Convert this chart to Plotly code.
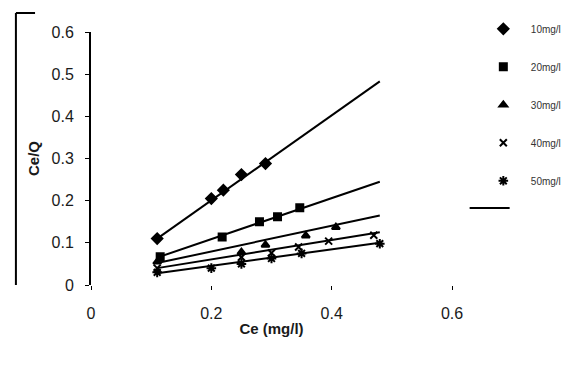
import plotly.graph_objects as go

# ---- data ----
series_names = ["10mg/l", "20mg/l", "30mg/l", "40mg/l", "50mg/l"]

ce_10 = [0.11, 0.20, 0.22, 0.25, 0.29]
q_10 = [0.11, 0.205, 0.225, 0.262, 0.288]

ce_20 = [0.115, 0.218, 0.28, 0.31, 0.347]
q_20 = [0.067, 0.114, 0.15, 0.162, 0.183]

ce_30 = [0.11, 0.25, 0.29, 0.357, 0.407]
q_30 = [0.055, 0.078, 0.095, 0.117, 0.137]

ce_40 = [0.11, 0.25, 0.30, 0.345, 0.395, 0.47]
q_40 = [0.04, 0.066, 0.076, 0.09, 0.104, 0.118]

ce_50 = [0.11, 0.20, 0.25, 0.30, 0.35, 0.48]
q_50 = [0.03, 0.04, 0.05, 0.063, 0.075, 0.098]

# linear trend lines (endpoints)
trend_x = [0.11, 0.48]
trend_10 = [0.11, 0.483]
trend_20 = [0.065, 0.245]
trend_30 = [0.052, 0.165]
trend_40 = [0.04, 0.125]
trend_50 = [0.028, 0.10]

x_ticks = [0, 0.2, 0.4, 0.6]
x_tick_labels = ["0", "0.2", "0.4", "0.6"]
y_ticks = [0, 0.1, 0.2, 0.3, 0.4, 0.5, 0.6]
y_tick_labels = ["0", "0.1", "0.2", "0.3", "0.4", "0.5", "0.6"]

points = [(ce_10, q_10), (ce_20, q_20), (ce_30, q_30), (ce_40, q_40), (ce_50, q_50)]
trends = [trend_10, trend_20, trend_30, trend_40, trend_50]
symbols = ["diamond", "square", "triangle-up", "x-thin-open", "asterisk-open"]
sizes = [8, 7, 7, 7, 8]

fig = go.Figure()

for i, ty in enumerate(trends):
    fig.add_trace(go.Scatter(
        x=trend_x, y=ty, mode="lines",
        line=dict(color="black", width=2),
        showlegend=(i == 0), name=" ", legend="legend2",
        hoverinfo="skip"))

for i, (xs, ys) in enumerate(points):
    fig.add_trace(go.Scatter(
        x=xs, y=ys, mode="markers", name=series_names[i],
        legendgroup=series_names[i],
        marker=dict(symbol=symbols[i], size=sizes[i], color="black",
                    line=dict(color="black", width=2))))

fig.update_layout(
    width=581, height=366,
    margin=dict(l=91, r=129, t=32, b=81),
    paper_bgcolor="white", plot_bgcolor="white",
    font=dict(family="Liberation Sans, Arial, sans-serif", color="#1a1a1a"),
    legend=dict(x=1.066, y=1.07, xanchor="left", yanchor="top",
                font=dict(size=10, color="#333"), tracegroupgap=19,
                itemwidth=45, bgcolor="rgba(0,0,0,0)", maxheight=400),
    legend2=dict(x=1.035, y=0.362, xanchor="left", yanchor="top",
                 font=dict(size=9, color="#333"), itemwidth=40,
                 bgcolor="rgba(0,0,0,0)"),
    xaxis=dict(range=[0, 0.6], tickvals=x_ticks, ticktext=x_tick_labels,
               showgrid=False, zeroline=False, showline=False,
               ticks="outside", ticklen=4, tickcolor="black",
               ticklabelstandoff=10,
               tickfont=dict(size=16), title=dict(text="<b>Ce (mg/l)</b>",
               font=dict(size=15), standoff=2)),
    yaxis=dict(range=[0, 0.6], tickvals=y_ticks, ticktext=y_tick_labels,
               showgrid=False, zeroline=False, showline=True, linecolor="black",
               linewidth=2, ticks="outside", ticklen=4, tickcolor="black",
               ticklabelstandoff=8,
               tickfont=dict(size=16), title=dict(text="<b>Ce/Q</b>",
               font=dict(size=15), standoff=8)),
    shapes=[
        dict(type="line", xref="paper", yref="paper", x0=-0.208, x1=-0.208,
             y0=-0.0, y1=1.075, line=dict(color="black", width=2)),
        dict(type="line", xref="paper", yref="paper", x0=-0.208, x1=-0.155,
             y0=1.075, y1=1.075, line=dict(color="black", width=2)),
    ],
)

fig.write_html("out.html")
